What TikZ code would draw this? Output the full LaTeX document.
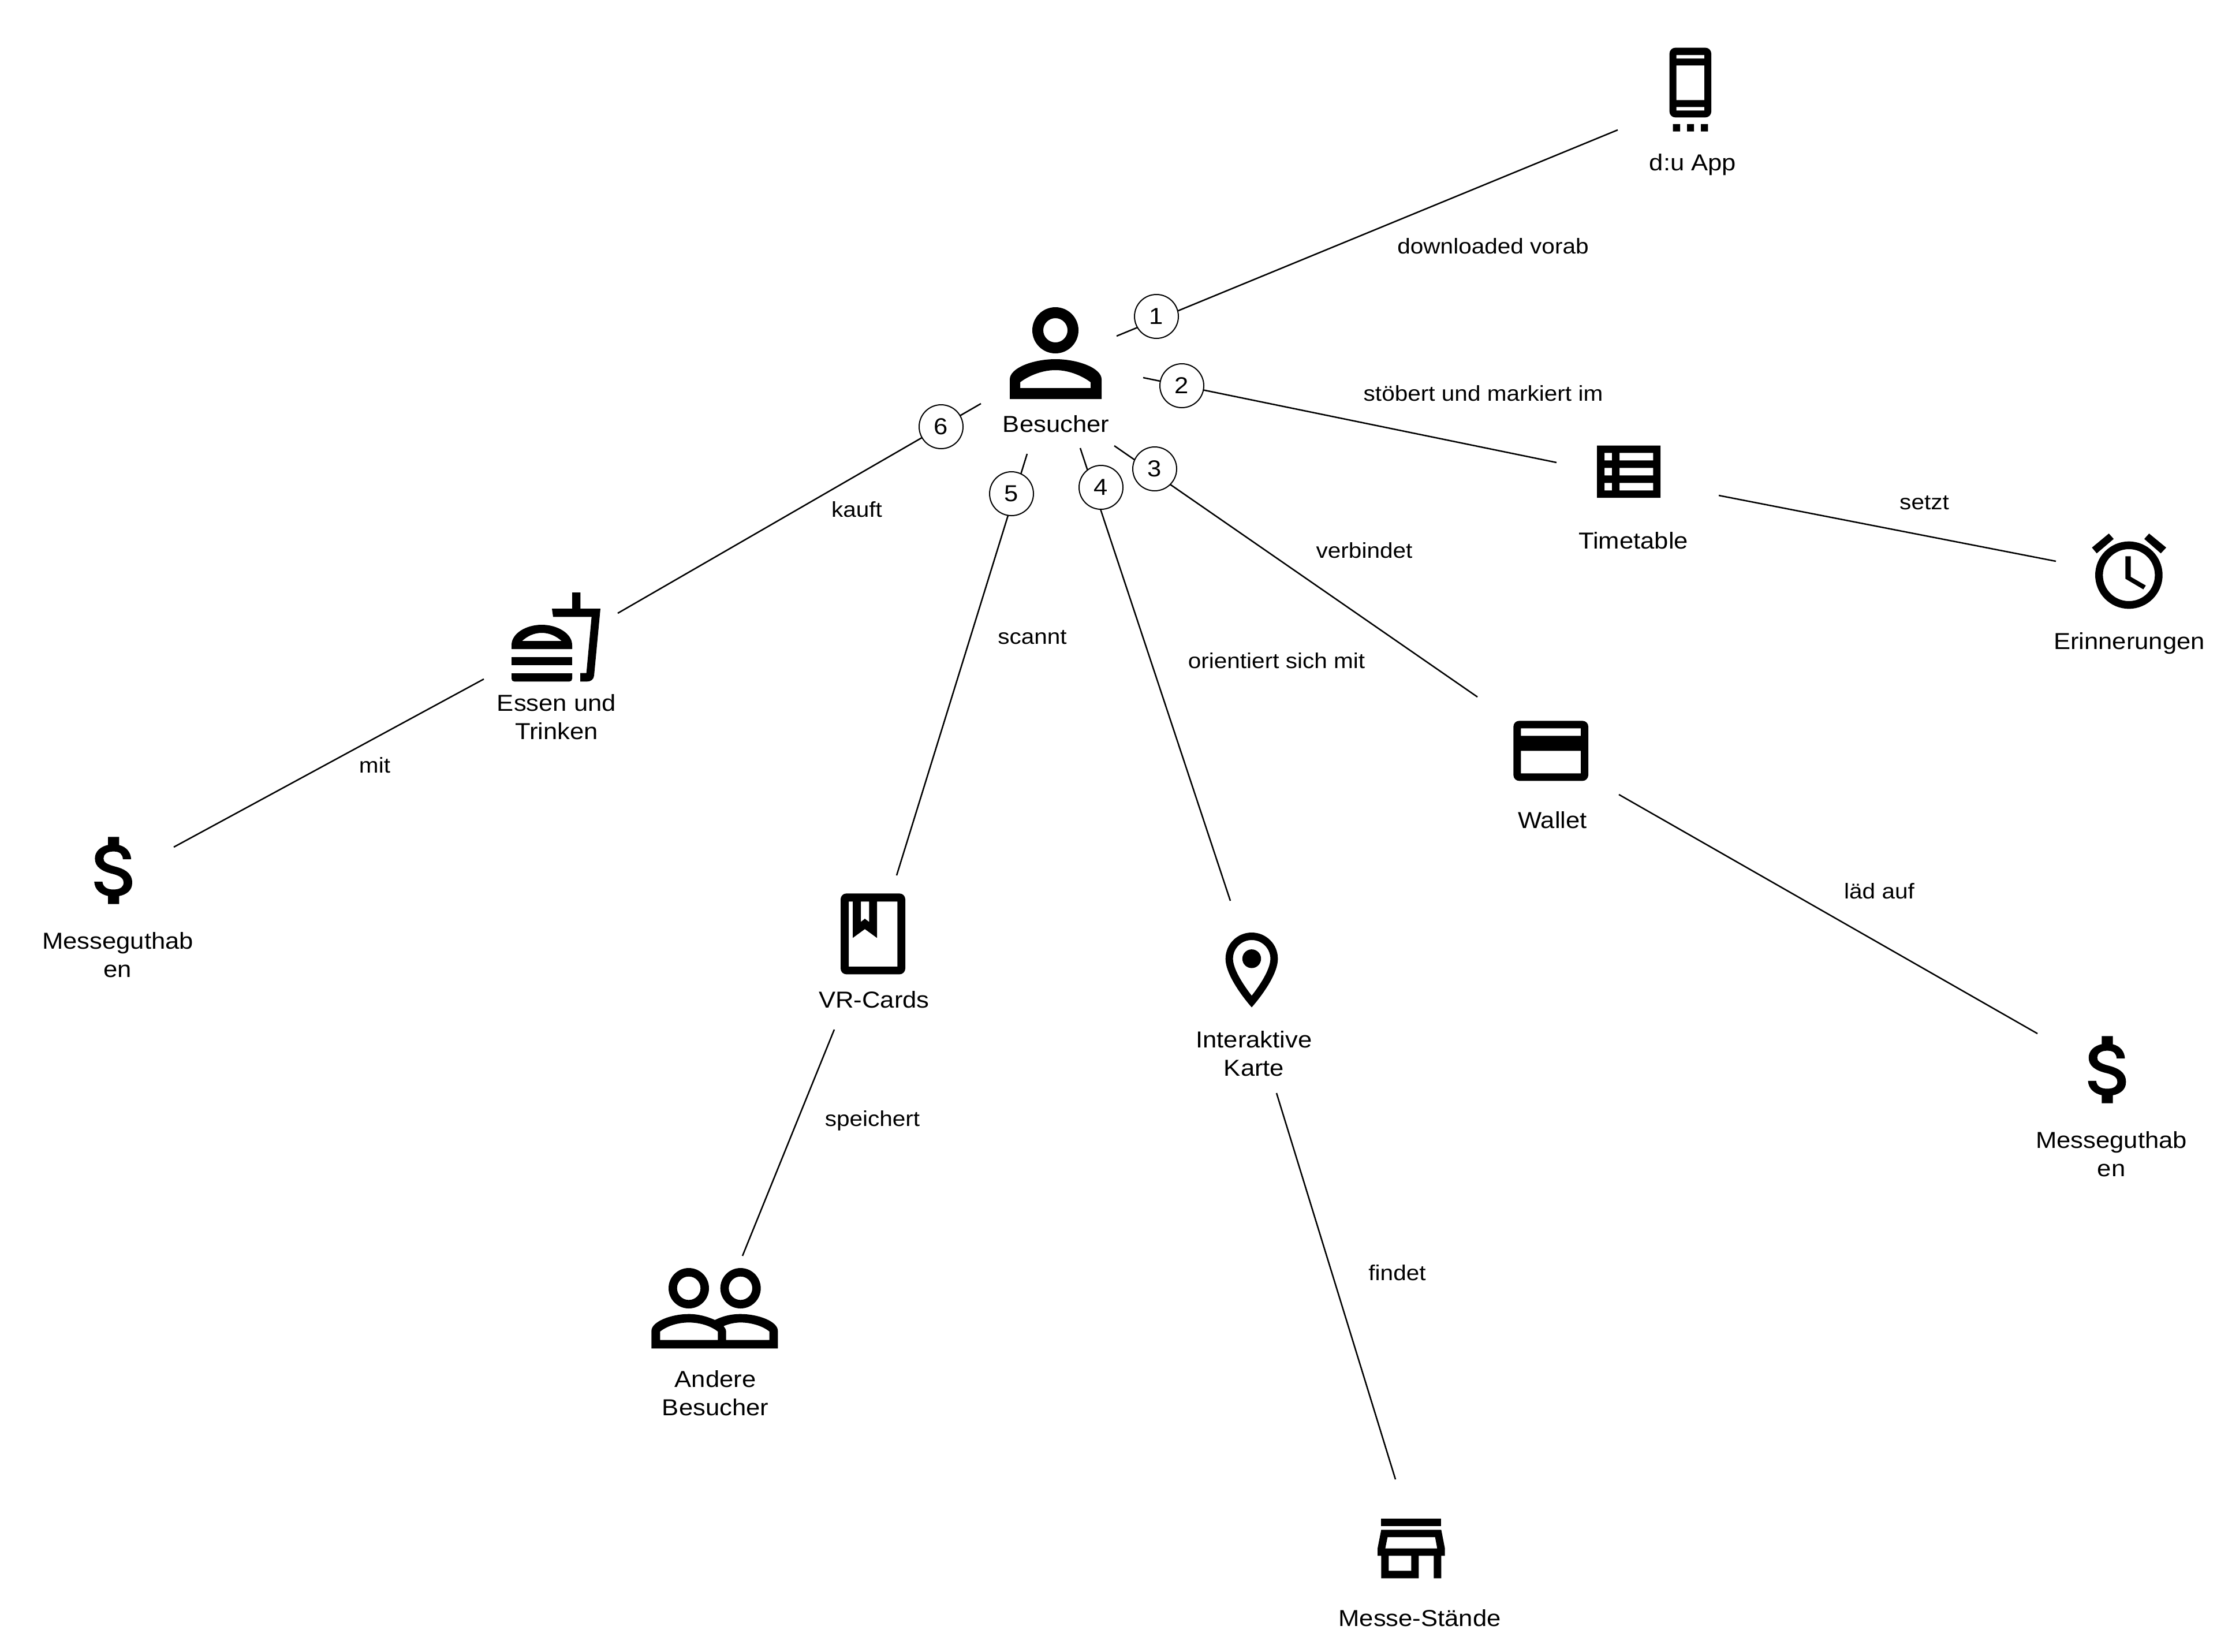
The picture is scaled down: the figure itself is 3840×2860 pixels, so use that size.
\documentclass[tikz,border=0pt]{standalone}
\usepackage{fontspec}
\setmainfont[FakeStretch=1.09]{Liberation Sans}
\tikzset{
  x=0.25pt,y=-0.25pt,
  zoomed/.style={x=0.083333pt,y=-0.083333pt},
  icon/.style={fill=black,even odd rule},
  link/.style={draw=black,line width=0.625pt},
  lab/.style={inner sep=0pt,align=center,anchor=base,font=\fontsize{10}{12.25}\selectfont},
  edgelab/.style={inner sep=0pt,anchor=base,font=\fontsize{9.3}{11}\selectfont},
  badge/.style={circle,draw=black,fill=white,line width=0.5pt,minimum size=19pt,inner sep=0pt,font=\fontsize{10}{11}\selectfont}
}
\begin{document}
\begin{tikzpicture}
\useasboundingbox (0,0) rectangle (3840,2860);
\fill[white] (0,0) rectangle (3840,2860);

% connector ends
\coordinate (a1) at (1934,582);   \coordinate (b1) at (2802,225);
\coordinate (a2) at (1980,654);   \coordinate (b2) at (2696,801);
\coordinate (a3) at (1930,772);   \coordinate (b3) at (2559,1207);
\coordinate (a4) at (1871,776);   \coordinate (b4) at (2131,1560);
\coordinate (a5) at (1779,786);   \coordinate (b5) at (1553,1516);
\coordinate (a6) at (1699,699);   \coordinate (b6) at (1070,1062);
\coordinate (a7) at (2977,858);   \coordinate (b7) at (3561,972);
\coordinate (a8) at (838,1176);   \coordinate (b8) at (301,1467);
\coordinate (a9) at (2804,1376);  \coordinate (b9) at (3529,1790);
\coordinate (a10) at (1445,1783); \coordinate (b10) at (1286,2175);
\coordinate (a11) at (2211,1893); \coordinate (b11) at (2417,2562);
\foreach \i in {1,...,11} \draw[link] (a\i) -- (b\i);

% numbered badges
\node[badge] (n1) at (2003,548) {1};
\node[badge] (n2) at (2047,668) {2};
\node[badge] (n3) at (2000,812) {3};
\node[badge] (n4) at (1907,844) {4};
\node[badge] (n5) at (1752,855) {5};
\node[badge] (n6) at (1630,739) {6};

% edge labels
\node[edgelab] (e1) at (2586,439) {downloaded vorab};
\node[edgelab] (e2) at (2569,694) {stöbert und markiert im};
\node[edgelab] (e3) at (3333,882) {setzt};
\node[edgelab] (e4) at (2363,966) {verbindet};
\node[edgelab] (e5) at (2211,1157) {orientiert sich mit};
\node[edgelab] (e6) at (1788,1115) {scannt};
\node[edgelab] (e7) at (1484,895) {kauft};
\node[edgelab] (e8) at (649,1338) {mit};
\node[edgelab] (e9) at (3255,1556) {läd auf};
\node[edgelab] (e10) at (1511,1950) {speichert};
\node[edgelab] (e11) at (2420,2217) {findet};

% node labels
\node[lab] (l1) at (2932,295) {d:u App};
\node[lab] (l2) at (1829,748) {Besucher};
\node[lab] (l3) at (2829,950) {Timetable};
\node[lab] (l4) at (3688,1124) {Erinnerungen};
\node[lab] (l5) at (2689,1434) {Wallet};
\node[lab] (l6) at (964,1280) {Essen und\\Trinken};
\node[lab] (l7) at (204,1692) {Messeguthab\\en};
\node[lab] (l8) at (3657,2037) {Messeguthab\\en};
\node[lab] (l9) at (1514,1745) {VR-Cards};
\node[lab] (l10) at (2172,1863) {Interaktive\\Karte};
\node[lab] (l11) at (1239,2451) {Andere\\Besucher};
\node[lab] (l12) at (2459,2816) {Messe-Stände};

% person
\fill[icon] (1828,572) circle[radius=40] (1828,572) circle[radius=21];
\fill[icon] (1749,691) -- (1749,657) .. controls (1749,637) and (1790,622) .. (1828,622)
  .. controls (1866,622) and (1908,637) .. (1908,657) -- (1908,691) -- cycle
  (1767,672) -- (1767,662) .. controls (1780,652) and (1803,641) .. (1828,641)
  .. controls (1853,641) and (1876,652) .. (1889,662) -- (1889,672) -- cycle;

% phone
\begin{scope}[shift={(2800,50)},zoomed]
\fill[icon] [rounded corners=2.5pt] (275,98) rectangle (492,460) [sharp corners]
  (311,136) rectangle (456,154) (311,190) rectangle (456,370) (311,406) rectangle (456,424);
\fill (293,495) rectangle (330,533) (366,495) rectangle (402,533) (438,495) rectangle (475,533);
\end{scope}

% food
\begin{scope}[shift={(850,1000)},zoomed]
\fill[icon] (318,162) -- (423,162) -- (423,78) -- (466,78) -- (466,162) -- (570,162) -- (537,510)
  .. controls (535,530) and (520,541) .. (500,541) -- (465,541) -- (465,497) -- (497,497) -- (524,205) -- (324,205) -- cycle;
\fill[icon] (108,372) -- (108,352) .. controls (108,290) and (185,246) .. (265,246)
  .. controls (345,246) and (423,290) .. (423,352) -- (423,372) -- cycle
  (163,330) .. controls (190,305) and (225,288) .. (265,288) .. controls (305,288) and (340,305) .. (368,330) -- cycle;
\fill (108,414) rectangle (423,456);
\fill (108,498) -- (423,498) -- (423,526) .. controls (423,535) and (417,541) .. (408,541) -- (123,541)
  .. controls (114,541) and (108,535) .. (108,526) -- cycle;
\end{scope}

% timetable
\begin{scope}[shift={(2720,750)},zoomed]
\fill[icon] (138,65) rectangle (468,336)
  (177,103) rectangle (216,142) (255,103) rectangle (430,142)
  (177,181) rectangle (216,220) (255,181) rectangle (430,220)
  (177,259) rectangle (216,298) (255,259) rectangle (430,298);
\end{scope}

% clock
\begin{scope}[shift={(3580,900)},zoomed]
\fill[icon] (322,288) circle[radius=175] (322,288) circle[radius=135];
\fill (304,190) -- (332,190) -- (332,297) -- (410,342) -- (397,362) -- (304,307) -- cycle;
\fill (218,72) -- (243,100) -- (155,175) -- (130,145) -- cycle;
\fill (427,72) -- (402,100) -- (488,175) -- (516,145) -- cycle;
\end{scope}

% wallet
\begin{scope}[shift={(2600,1220)},zoomed]
\fill[icon] [rounded corners=2.5pt] (64,85) rectangle (453,397) [sharp corners]
  (103,124) rectangle (414,163) (103,241) rectangle (414,358);
\end{scope}

% book
\begin{scope}[shift={(1400,1530)},zoomed]
\fill[icon] [rounded corners=2.5pt] (168,52) rectangle (504,472) [sharp corners]
  (210,94) -- (231,94) -- (231,283) -- (294,237) -- (357,283) -- (357,94) -- (463,94) -- (463,432) -- (210,432) -- cycle
  (273,94) -- (316,94) -- (316,200) -- (294,183) -- (273,200) -- cycle;
\end{scope}

% pin
\begin{scope}[shift={(2090,1600)},zoomed]
\begin{scope}[shift={(234,181)},x=1.619pt,y=-1.619pt]
\fill[icon] (0,-7) .. controls (-3.87,-7) and (-7,-3.87) .. (-7,0)
  .. controls (-7,5.25) and (0,13) .. (0,13) .. controls (0,13) and (7,5.25) .. (7,0)
  .. controls (7,-3.87) and (3.87,-7) .. (0,-7) -- cycle
  (0,-5) .. controls (2.76,-5) and (5,-2.76) .. (5,0)
  .. controls (5,2.88) and (2.12,7.19) .. (0,9.88)
  .. controls (-2.08,7.21) and (-5,2.85) .. (-5,0)
  .. controls (-5,-2.76) and (-2.76,-5) .. (0,-5) -- cycle;
\fill (0,0) circle[radius=2.5];
\end{scope}
\end{scope}

% people
\begin{scope}[shift={(1110,2170)},zoomed]
\fill[icon] (249,183) circle[radius=105] (249,183) circle[radius=61];
\fill[icon] (518,183) circle[radius=105] (518,183) circle[radius=61];
\fill[icon] (55,496) -- (55,405) .. controls (55,355) and (160,317) .. (249,317)
  .. controls (300,317) and (345,330) .. (385,348) .. controls (420,330) and (465,317) .. (518,317)
  .. controls (610,317) and (712,355) .. (712,405) -- (712,496) -- cycle
  (100,452) -- (100,408) .. controls (135,380) and (190,361) .. (249,361)
  .. controls (310,361) and (365,380) .. (400,408) -- (400,452) -- cycle
  (443,452) -- (443,408) .. controls (443,398) and (437,388) .. (430,380)
  .. controls (455,368) and (490,361) .. (518,361) .. controls (575,361) and (635,380) .. (668,408) -- (668,452) -- cycle;
\end{scope}

% store
\begin{scope}[shift={(2360,2600)},zoomed]
\fill (97,89) rectangle (409,128);
\fill[icon] (97,148) -- (409,148) -- (428,245) -- (428,283) -- (409,283) -- (409,400) -- (370,400) -- (370,283)
  -- (292,283) -- (292,400) -- (97,400) -- (97,283) -- (78,283) -- (78,245) -- cycle
  (130,186) -- (377,186) -- (388,245) -- (118,245) -- cycle
  (136,283) -- (253,283) -- (253,361) -- (136,361) -- cycle;
\end{scope}

% dollars
\foreach \ox/\oy in {122.4/1430, 3575.7/1775}{
\begin{scope}[shift={(\ox,\oy)},x=1.615pt,y=-1.615pt]
\fill (11.8,10.9) .. controls (9.53,10.31) and (8.8,9.7) .. (8.8,8.75)
  .. controls (8.8,7.66) and (9.81,6.9) .. (11.5,6.9)
  .. controls (13.28,6.9) and (13.94,7.75) .. (14,9) -- (16.21,9)
  .. controls (16.14,7.28) and (15.09,5.7) .. (13,5.19) -- (13,3) -- (10,3) -- (10,5.16)
  .. controls (8.06,5.58) and (6.5,6.84) .. (6.5,8.77)
  .. controls (6.5,11.08) and (8.41,12.23) .. (11.2,12.9)
  .. controls (13.7,13.5) and (14.2,14.38) .. (14.2,15.31)
  .. controls (14.2,16) and (13.71,17.1) .. (11.5,17.1)
  .. controls (9.44,17.1) and (8.63,16.18) .. (8.52,15) -- (6.32,15)
  .. controls (6.44,17.19) and (8.08,18.42) .. (10,18.83) -- (10,21) -- (13,21) -- (13,18.85)
  .. controls (14.95,18.48) and (16.5,17.35) .. (16.5,15.3)
  .. controls (16.5,12.46) and (14.07,11.49) .. (11.8,10.9) -- cycle;
\end{scope}}
\end{tikzpicture}
\end{document}
